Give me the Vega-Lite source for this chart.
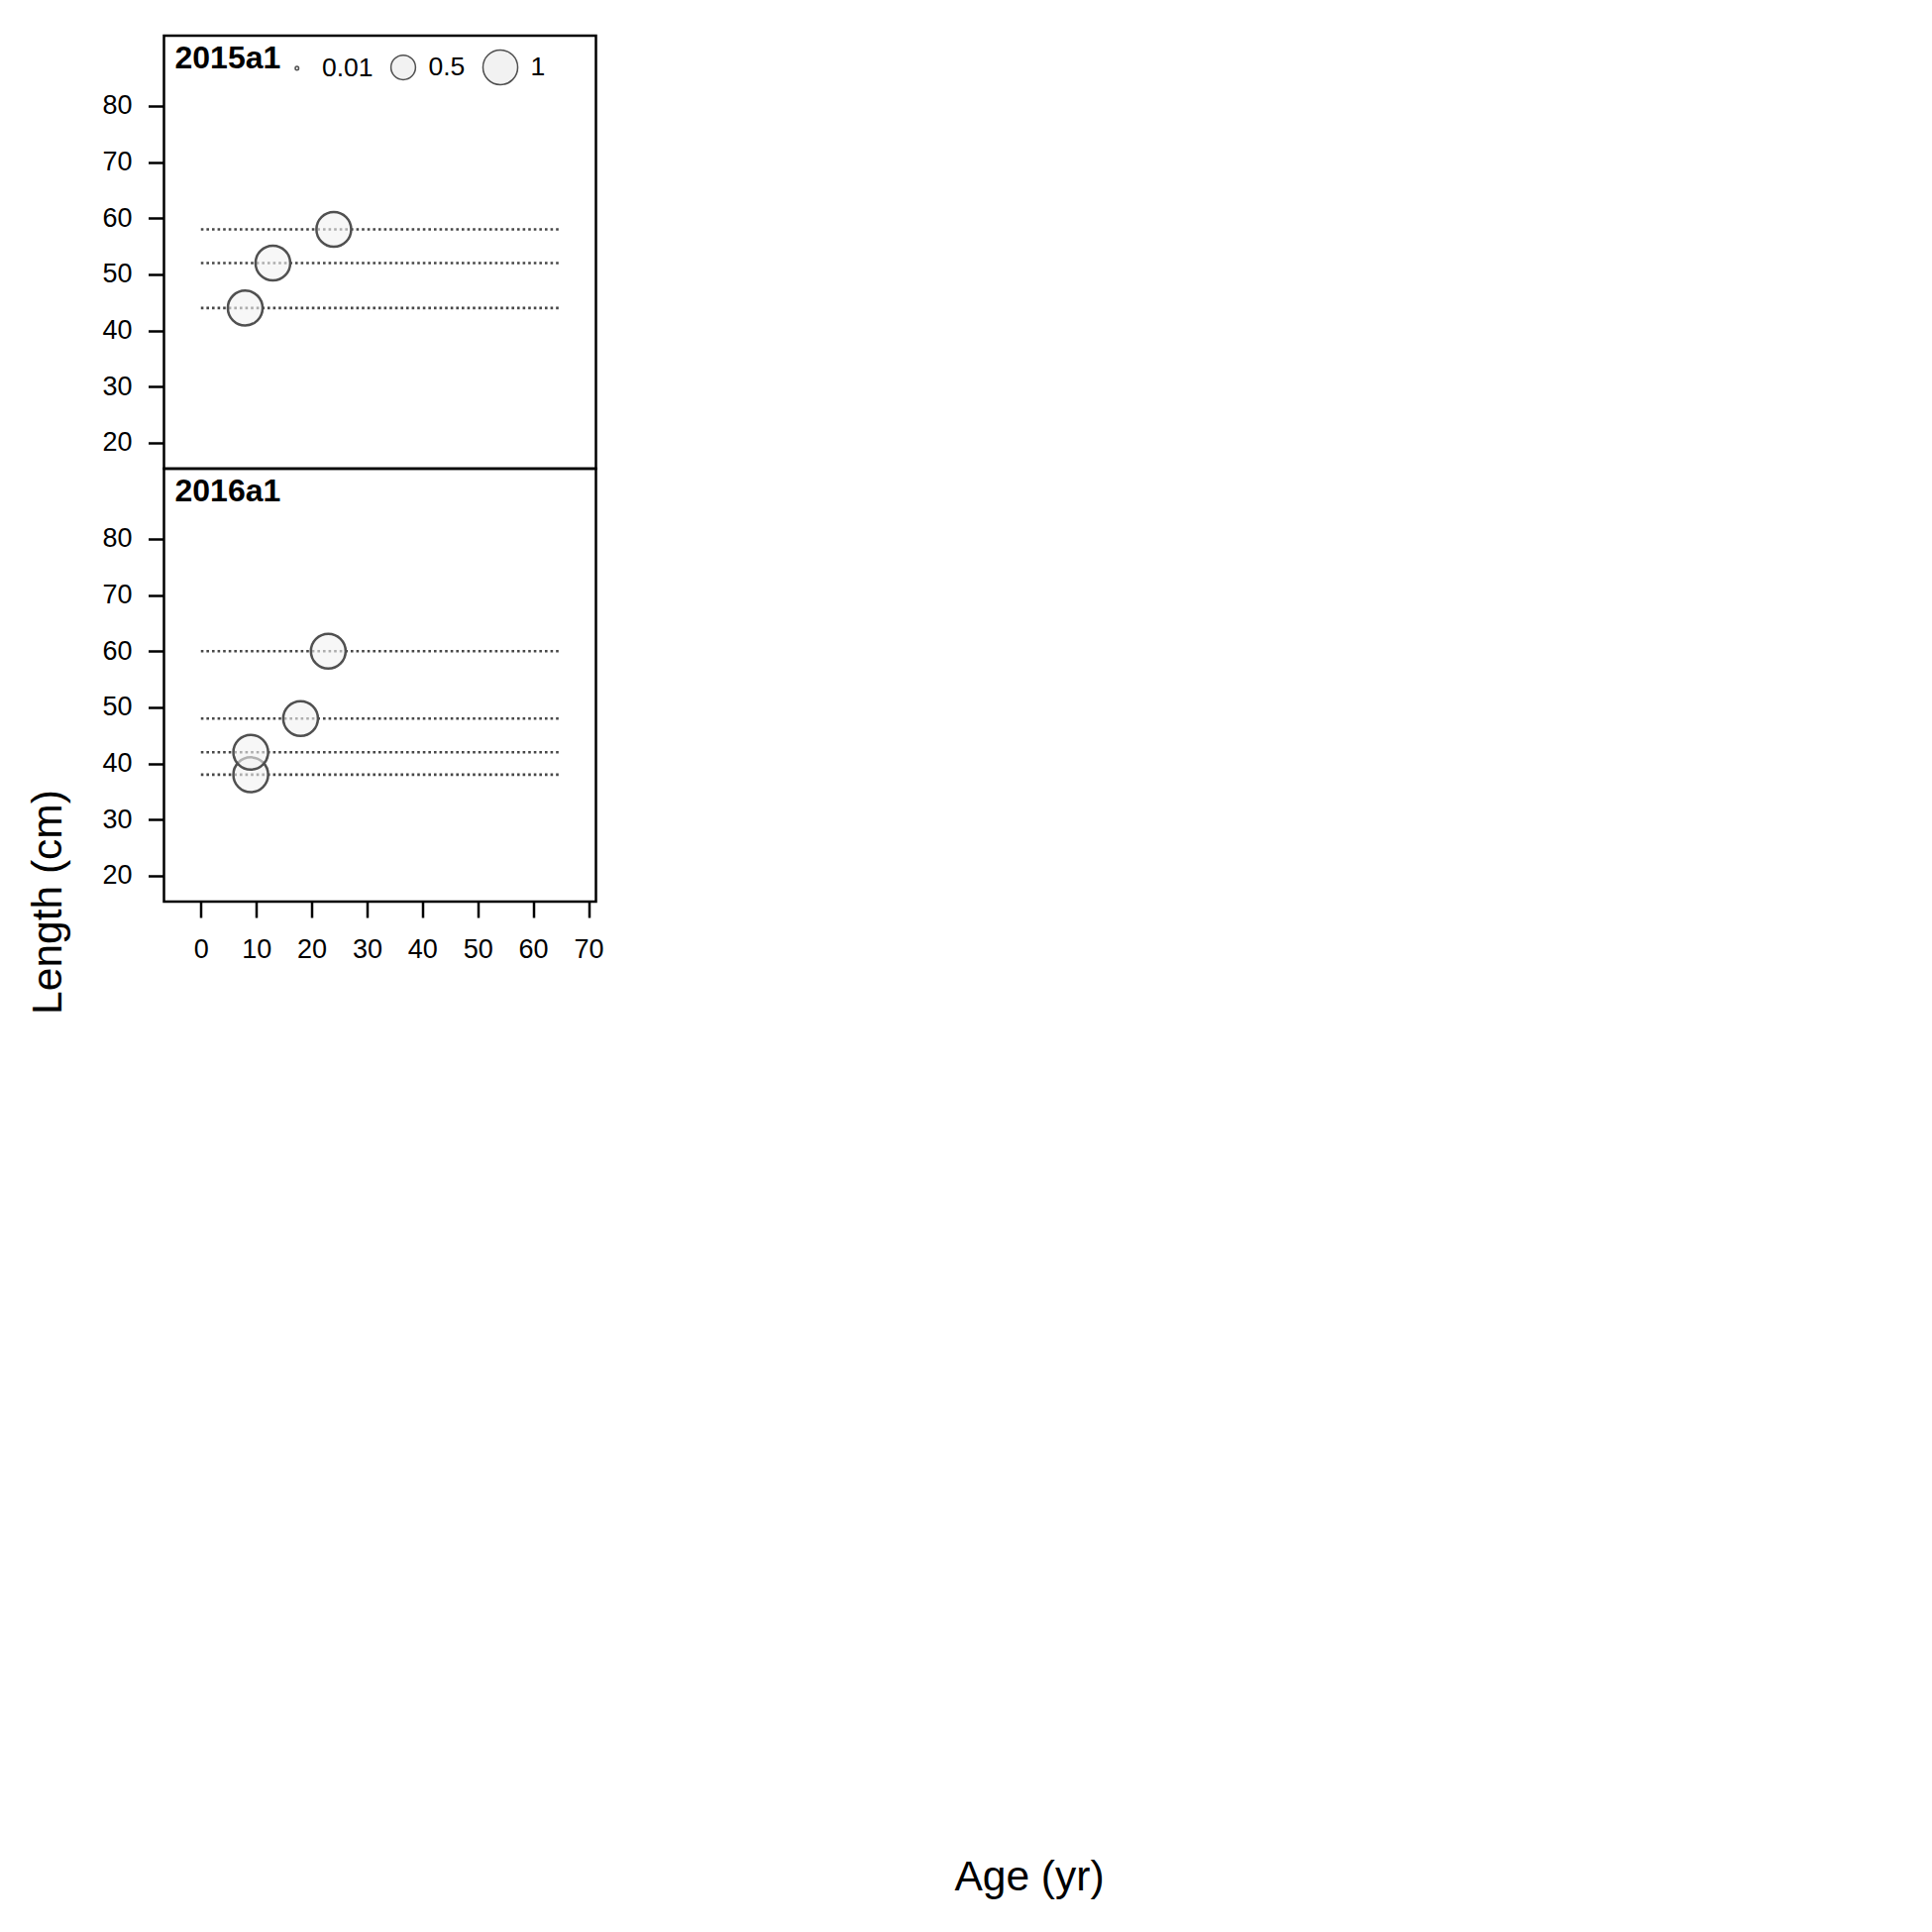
{
  "$schema": "https://vega.github.io/schema/vega-lite/v6.json",
  "background": "white",
  "padding": {"left": 25.5, "top": 34, "right": 5, "bottom": 5},
  "config": {
    "font": "Liberation Sans",
    "view": {"stroke": "black", "strokeWidth": 2.5},
    "axis": {
      "labelFont": "Liberation Sans",
      "labelFontSize": 27,
      "labelColor": "black",
      "tickColor": "black",
      "tickWidth": 2.5,
      "tickSize": 16,
      "domain": false,
      "grid": false,
      "titleFont": "Liberation Sans",
      "titleFontWeight": "normal",
      "titleFontSize": 42.5,
      "titleColor": "black"
    },
    "title": {"font": "Liberation Sans", "fontSize": 32, "fontWeight": "bold", "color": "black"}
  },
  "datasets": {
    "obs": [
      {"panel": "2015a1", "age": 8, "length": 44, "prop": 1},
      {"panel": "2015a1", "age": 13, "length": 52, "prop": 1},
      {"panel": "2015a1", "age": 24, "length": 58, "prop": 1},
      {"panel": "2016a1", "age": 9, "length": 38, "prop": 1},
      {"panel": "2016a1", "age": 9, "length": 42, "prop": 1},
      {"panel": "2016a1", "age": 18, "length": 48, "prop": 1},
      {"panel": "2016a1", "age": 23, "length": 60, "prop": 1}
    ]
  },
  "spacing": 0,
  "bounds": "flush",
  "resolve": {"scale": {"size": "independent"}, "legend": {"size": "independent"}},
  "vconcat": [
    {
      "width": 436,
      "height": 437,
      "title": {"text": "2015a1", "anchor": "start", "frame": "group", "orient": "top", "offset": -25, "baseline": "middle", "dx": 11, "dy": 29.7},
      "data": {"name": "obs"},
      "transform": [{"filter": "datum.panel === '2015a1'"}],
      "layer": [
        {
          "mark": {"type": "rule", "color": "#474747", "strokeWidth": 2.6, "strokeDash": [2.6, 3]},
          "encoding": {
            "y": {"field": "length", "type": "quantitative", "scale": {"domain": [15.4, 92.5], "nice": false, "zero": false}, "axis": {"values": [20, 30, 40, 50, 60, 70, 80], "title": null, "labelPadding": 16.5}},
            "x": {"datum": 0, "type": "quantitative", "scale": {"domain": [-6.67, 71.34], "nice": false, "zero": false}, "axis": null},
            "x2": {"datum": 65}
          }
        },
        {
          "mark": {"type": "point", "shape": "circle", "filled": true, "fill": "#f2f2f2", "fillOpacity": 0.6, "stroke": "#505050", "strokeWidth": 2.5, "opacity": 1},
          "encoding": {
            "x": {"field": "age", "type": "quantitative"},
            "y": {"field": "length", "type": "quantitative"},
            "size": {
              "field": "prop", "type": "quantitative",
              "scale": {"domain": [0, 1], "range": [0, 1230], "zero": true},
              "legend": {
                "values": [0.01, 0.5, 1],
                "format": "~g",
                "orient": "none", "legendX": 121, "legendY": 13,
                "direction": "horizontal", "title": null,
                "labelFont": "Liberation Sans", "labelFontSize": 26.5, "labelColor": "black",
                "labelOffset": 12, "columnPadding": 14, "padding": 0,
                "symbolType": "circle",
                "encode": {
                  "symbols": {
                    "update": {
                      "stroke": {"value": "#505050"},
                      "strokeWidth": {"value": 2.5},
                      "fill": {"signal": "datum.value < 0.1 ? '#505050' : '#f7f7f7'"},
                      "fillOpacity": {"value": 1},
                      "opacity": {"value": 1}
                    }
                  }
                }
              }
            }
          }
        }
      ]
    },
    {
      "width": 436,
      "height": 437,
      "title": {"text": "2016a1", "anchor": "start", "frame": "group", "orient": "top", "offset": -25, "baseline": "middle", "dx": 11, "dy": 29.7},
      "data": {"name": "obs"},
      "transform": [{"filter": "datum.panel === '2016a1'"}],
      "layer": [
        {
          "mark": {"type": "rule", "color": "#474747", "strokeWidth": 2.6, "strokeDash": [2.6, 3]},
          "encoding": {
            "y": {"field": "length", "type": "quantitative", "scale": {"domain": [15.4, 92.5], "nice": false, "zero": false}, "axis": {"values": [20, 30, 40, 50, 60, 70, 80], "title": "Length (cm)", "labelPadding": 16.5, "titleAngle": 270, "titleX": -117, "titleY": 437, "titleAlign": "center", "titleBaseline": "middle"}},
            "x": {"datum": 0, "type": "quantitative", "scale": {"domain": [-6.67, 71.34], "nice": false, "zero": false}, "axis": {"values": [0, 10, 20, 30, 40, 50, 60, 70], "title": "Age (yr)", "labelPadding": 19.5, "titleX": 873, "titleY": 984, "titleAlign": "center", "titleBaseline": "middle"}},
            "x2": {"datum": 65}
          }
        },
        {
          "mark": {"type": "point", "shape": "circle", "filled": true, "fill": "#f2f2f2", "fillOpacity": 0.6, "stroke": "#505050", "strokeWidth": 2.5, "opacity": 1},
          "encoding": {
            "x": {"field": "age", "type": "quantitative"},
            "y": {"field": "length", "type": "quantitative"},
            "size": {
              "field": "prop", "type": "quantitative",
              "scale": {"domain": [0, 1], "range": [0, 1230], "zero": true},
              "legend": null
            }
          }
        }
      ]
    }
  ]
}
